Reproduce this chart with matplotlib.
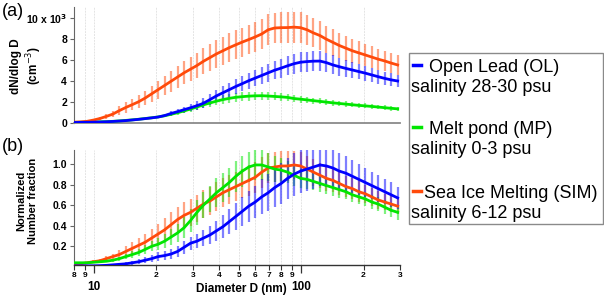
import matplotlib
matplotlib.use('Agg')
import matplotlib.pyplot as plt
from matplotlib.lines import Line2D
from matplotlib.patches import Rectangle

plt.rcParams['font.family'] = ['Liberation Sans', 'DejaVu Sans']

# particle diameter (nm), SMPS channels
diam = [8.00, 8.60, 9.24, 9.93, 10.67, 11.47, 12.32, 13.24, 14.23, 15.29,
        16.43, 17.66, 18.97, 20.39, 21.91, 23.54, 25.30, 27.19, 29.22, 31.40,
        33.74, 36.26, 38.96, 41.87, 44.99, 48.35, 51.96, 55.83, 60.00, 64.47,
        69.28, 74.45, 80.00, 85.97, 92.38, 99.27, 106.7, 114.6, 123.2, 132.4,
        142.3, 152.9, 164.3, 176.6, 189.7, 203.9, 219.1, 235.4, 253.0, 271.9,
        292.2]

# (a) dN/dlogD, x 10^3 cm-3
ol_conc = [0.02, 0.03, 0.04, 0.05, 0.07, 0.09, 0.12, 0.16, 0.20, 0.26,
           0.32, 0.39, 0.46, 0.54, 0.68, 0.88, 1.05, 1.24, 1.42, 1.62,
           1.85, 2.20, 2.55, 2.85, 3.15, 3.45, 3.72, 4.00, 4.25, 4.50,
           4.75, 5.00, 5.20, 5.42, 5.62, 5.76, 5.82, 5.86, 5.87, 5.72,
           5.50, 5.33, 5.17, 5.02, 4.87, 4.72, 4.55, 4.38, 4.22, 4.08, 3.97]
ol_conc_err = [0.01, 0.01, 0.02, 0.02, 0.03, 0.03, 0.04, 0.05, 0.06, 0.07,
               0.08, 0.10, 0.12, 0.14, 0.18, 0.22, 0.26, 0.30, 0.34, 0.40,
               0.46, 0.52, 0.58, 0.62, 0.66, 0.70, 0.73, 0.76, 0.80, 0.83,
               0.86, 0.88, 0.90, 0.92, 0.94, 0.95, 0.96, 0.96, 0.95, 0.93,
               0.90, 0.86, 0.82, 0.78, 0.75, 0.72, 0.69, 0.66, 0.64, 0.62, 0.60]
mp_conc = [0.03, 0.04, 0.05, 0.06, 0.08, 0.10, 0.13, 0.17, 0.22, 0.27,
           0.33, 0.40, 0.47, 0.55, 0.66, 0.80, 0.95, 1.12, 1.30, 1.50,
           1.70, 1.88, 2.05, 2.20, 2.32, 2.42, 2.48, 2.53, 2.56, 2.57,
           2.54, 2.50, 2.46, 2.41, 2.30, 2.24, 2.17, 2.10, 2.03, 1.96,
           1.89, 1.83, 1.77, 1.71, 1.65, 1.60, 1.55, 1.49, 1.43, 1.37, 1.32]
mp_conc_err = [0.01, 0.01, 0.02, 0.02, 0.02, 0.03, 0.03, 0.04, 0.05, 0.06,
               0.07, 0.08, 0.09, 0.10, 0.12, 0.14, 0.17, 0.20, 0.24, 0.28,
               0.32, 0.35, 0.38, 0.40, 0.41, 0.42, 0.42, 0.42, 0.41, 0.40,
               0.39, 0.38, 0.36, 0.35, 0.33, 0.32, 0.30, 0.29, 0.28, 0.27,
               0.26, 0.25, 0.25, 0.24, 0.23, 0.23, 0.22, 0.22, 0.21, 0.21, 0.20]
sim_conc = [0.05, 0.08, 0.13, 0.25, 0.40, 0.60, 0.82, 1.15, 1.45, 1.72,
            2.00, 2.35, 2.75, 3.15, 3.55, 3.95, 4.35, 4.75, 5.10, 5.45,
            5.85, 6.20, 6.55, 6.85, 7.15, 7.42, 7.68, 7.92, 8.17, 8.45,
            8.85, 9.02, 9.05, 9.06, 9.10, 9.05, 8.85, 8.55, 8.30, 7.95,
            7.65, 7.35, 7.10, 6.85, 6.65, 6.45, 6.25, 6.05, 5.88, 5.68, 5.50]
sim_conc_err = [0.03, 0.05, 0.08, 0.12, 0.18, 0.25, 0.32, 0.40, 0.48, 0.55,
                0.62, 0.70, 0.78, 0.85, 0.92, 1.00, 1.05, 1.10, 1.15, 1.20,
                1.25, 1.28, 1.30, 1.32, 1.35, 1.37, 1.38, 1.40, 1.42, 1.44,
                1.46, 1.47, 1.48, 1.48, 1.47, 1.45, 1.42, 1.38, 1.34, 1.30,
                1.26, 1.22, 1.18, 1.14, 1.10, 1.07, 1.04, 1.01, 0.98, 0.96, 0.94]

# (b) normalized number fraction
ol_norm = [0.01, 0.01, 0.01, 0.01, 0.012, 0.015, 0.02, 0.025, 0.03, 0.04,
           0.05, 0.065, 0.08, 0.10, 0.11, 0.125, 0.15, 0.19, 0.23, 0.25,
           0.28, 0.31, 0.35, 0.39, 0.44, 0.49, 0.54, 0.59, 0.63, 0.68,
           0.72, 0.77, 0.81, 0.86, 0.90, 0.93, 0.95, 0.97, 0.99, 0.98,
           0.96, 0.93, 0.91, 0.88, 0.85, 0.82, 0.79, 0.76, 0.73, 0.70, 0.67]
ol_norm_err = [0.003, 0.003, 0.004, 0.005, 0.006, 0.008, 0.01, 0.012, 0.015, 0.02,
               0.025, 0.03, 0.035, 0.04, 0.045, 0.05, 0.055, 0.06, 0.065, 0.07,
               0.08, 0.09, 0.10, 0.11, 0.12, 0.13, 0.14, 0.15, 0.16, 0.17,
               0.18, 0.19, 0.20, 0.20, 0.21, 0.21, 0.21, 0.21, 0.20, 0.20,
               0.19, 0.18, 0.17, 0.16, 0.15, 0.14, 0.13, 0.13, 0.12, 0.12, 0.11]
mp_norm = [0.04, 0.04, 0.04, 0.045, 0.05, 0.055, 0.065, 0.08, 0.10, 0.12,
           0.14, 0.17, 0.20, 0.22, 0.25, 0.29, 0.33, 0.38, 0.45, 0.53,
           0.60, 0.66, 0.72, 0.77, 0.82, 0.88, 0.93, 0.97, 0.99, 0.99,
           0.97, 0.95, 0.94, 0.92, 0.89, 0.86, 0.85, 0.83, 0.81, 0.79,
           0.77, 0.75, 0.73, 0.70, 0.68, 0.66, 0.63, 0.61, 0.58, 0.55, 0.53]
mp_norm_err = [0.005, 0.005, 0.008, 0.01, 0.01, 0.012, 0.015, 0.02, 0.025, 0.03,
               0.035, 0.04, 0.05, 0.06, 0.07, 0.08, 0.09, 0.10, 0.11, 0.12,
               0.13, 0.13, 0.14, 0.14, 0.14, 0.15, 0.15, 0.15, 0.15, 0.15,
               0.14, 0.13, 0.12, 0.11, 0.10, 0.09, 0.09, 0.08, 0.08, 0.08,
               0.08, 0.08, 0.07, 0.07, 0.07, 0.07, 0.07, 0.07, 0.07, 0.07, 0.07]
sim_norm = [0.03, 0.03, 0.04, 0.05, 0.06, 0.08, 0.10, 0.12, 0.15, 0.18,
            0.21, 0.24, 0.28, 0.32, 0.36, 0.41, 0.46, 0.50, 0.53, 0.57,
            0.61, 0.64, 0.68, 0.72, 0.75, 0.78, 0.81, 0.84, 0.87, 0.92,
            0.96, 0.97, 0.98, 0.98, 0.99, 0.98, 0.95, 0.92, 0.89, 0.86,
            0.84, 0.81, 0.78, 0.76, 0.73, 0.71, 0.68, 0.65, 0.63, 0.61, 0.59]
sim_norm_err = [0.005, 0.008, 0.01, 0.015, 0.02, 0.025, 0.03, 0.04, 0.05, 0.06,
                0.07, 0.08, 0.09, 0.10, 0.11, 0.12, 0.12, 0.13, 0.13, 0.13,
                0.14, 0.14, 0.14, 0.14, 0.14, 0.14, 0.14, 0.15, 0.15, 0.15,
                0.15, 0.15, 0.15, 0.15, 0.14, 0.14, 0.13, 0.13, 0.12, 0.12,
                0.11, 0.11, 0.10, 0.10, 0.10, 0.09, 0.09, 0.09, 0.08, 0.08, 0.08]

names = ['Open Lead (OL)', 'Melt pond (MP)', 'Sea Ice Melting (SIM)']
salinity = ['salinity 28-30 psu', 'salinity 0-3 psu', 'salinity 6-12 psu']
colors = ['#0000ff', '#00e600', '#ff4a0a']

minor_ticks = [8, 9, 20, 30, 40, 50, 60, 70, 80, 90, 200, 300]
minor_labels = ['8', '9', '2', '3', '4', '5', '6', '7', '8', '9', '2', '3']

W, H = 604, 297
fig = plt.figure(figsize=(W / 100, H / 100), dpi=100)


def fx(px):
    return px / W


def fy(py):
    return 1 - py / H


ax1 = fig.add_axes([fx(74), fy(122.7), 326 / W, 115.5 / H])
ax2 = fig.add_axes([fx(74), fy(265.3), 326 / W, 115.8 / H])

top = [(mp_conc, mp_conc_err, colors[1]), (sim_conc, sim_conc_err, colors[2]),
       (ol_conc, ol_conc_err, colors[0])]
bot = [(sim_norm, sim_norm_err, colors[2]), (mp_norm, mp_norm_err, colors[1]),
       (ol_norm, ol_norm_err, colors[0])]

for ax, series in [(ax1, top), (ax2, bot)]:
    for y, e, c in series:
        ax.errorbar(diam, y, yerr=e, fmt='none', ecolor=c, elinewidth=1.6,
                    alpha=0.5, zorder=2)
        ax.plot(diam, y, color=c, lw=2, zorder=3)
    ax.set_xscale('log')
    ax.set_xlim(8, 300)
    ax.set_xticks([10, 100])
    ax.set_xticks(minor_ticks, minor=True)
    ax.grid(True, which='both', axis='x', color='#e4e4e4', lw=0.7, ls=(0, (2, 1)))
    ax.set_axisbelow(True)
    ax.spines['top'].set_visible(False)
    ax.spines['right'].set_visible(False)
    ax.spines['left'].set_color('#666666')
    ax.tick_params(axis='y', colors='#666666', length=3, width=0.8,
                   labelcolor='black', labelsize=7.5, pad=2)

# (a)
ax1.set_ylim(0, 11)
ax1.set_yticks([0, 2, 4, 6, 8, 10])
ax1.set_yticklabels(['0', '2', '4', '6', '8', r'10 x 10$^\mathbf{3}$'],
                    fontweight='bold')
ax1.spines['bottom'].set_color('#8a8a8a')
ax1.spines['bottom'].set_linewidth(1.3)
ax1.tick_params(axis='x', which='both', length=0, labelbottom=False)
fig.text(fx(27), fy(66), 'dN/dlog D\n(cm$^{-3}$)', fontsize=8.5,
         fontweight='bold', linespacing=1.2, rotation=90, ha='center',
         va='center')

# (b)
ax2.set_ylim(0.0155, 1.14)
ax2.set_yticks([0.2, 0.4, 0.6, 0.8, 1.0])
ax2.set_yticklabels(['0.2', '0.4', '0.6', '0.8', '1.0'], fontweight='bold')
ax2.spines['bottom'].set_color('#333333')
ax2.spines['bottom'].set_linewidth(1.0)
ax2.set_xticklabels(['10', '100'], fontsize=8.5, fontweight='bold')
ax2.set_xticklabels(minor_labels, minor=True, fontsize=6, fontweight='bold')
ax2.tick_params(axis='x', which='major', length=6, width=0.9, pad=5,
                color='#333333')
ax2.tick_params(axis='x', which='minor', length=3.5, width=0.8, pad=1,
                color='#333333')
fig.text(fx(241), fy(289), 'Diameter D (nm)', fontsize=8.5,
         fontweight='bold', ha='center', va='center')
fig.text(fx(27), fy(201), 'Normalized\nNumber fraction', fontsize=8,
         fontweight='bold', linespacing=1.2, rotation=90, ha='center',
         va='center')

fig.text(fx(2), fy(16), '(a)', fontsize=13)
fig.text(fx(2), fy(151), '(b)', fontsize=13)

# legend drawn by hand: coloured dash on the first line, salinity below
fig.patches.append(Rectangle((fx(409), fy(224)), (603 - 409) / W, (224 - 53.3) / H,
                             transform=fig.transFigure, fill=False,
                             edgecolor='#8a8a8a', lw=1))
base = [72, 134, 198]
text_x = [429, 429, 424]
for name, sal, c, b, tx in zip(names, salinity, colors, base, text_x):
    fig.lines.append(Line2D([fx(413), fx(421)], [fy(b - 7), fy(b - 7)],
                            transform=fig.transFigure, color=c, lw=2.5))
    fig.text(fx(tx), fy(b), name, fontsize=13, va='baseline')
    fig.text(fx(411), fy(b + 20), sal, fontsize=13, va='baseline')

fig.savefig('out.png', dpi=100)
